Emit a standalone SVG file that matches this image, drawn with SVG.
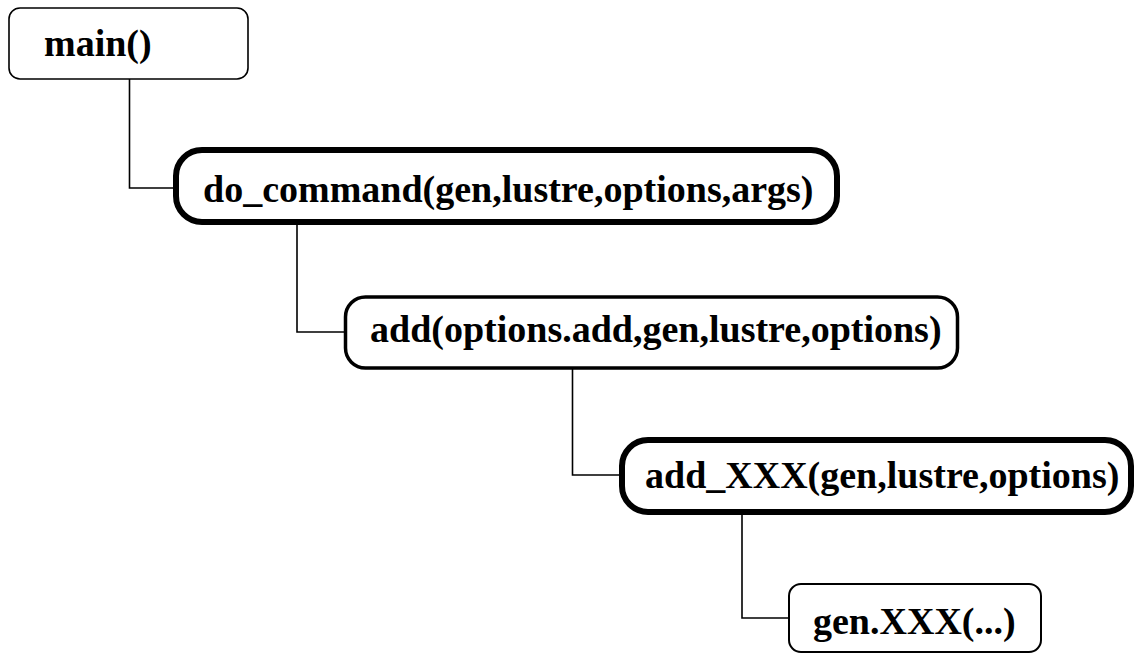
<svg xmlns="http://www.w3.org/2000/svg" width="1135" height="654" viewBox="0 0 1135 654">
<style>
.box{fill:#fff;stroke:#000}
.t{font-family:"Liberation Serif","Times New Roman",serif;font-weight:bold;font-size:38px;fill:#000}
.c{fill:none;stroke:#000;stroke-width:1.6}
</style>
<rect width="1135" height="654" fill="#fff"/>
<g id="connectors">
<polyline class="c" points="129.5,79 129.5,188 176,188"/>
<polyline class="c" points="297,225 297,332 345,332"/>
<polyline class="c" points="572.5,368 572.5,475 622,475"/>
<polyline class="c" points="742,512 742,618 789,618"/>
</g>
<g id="main">
<rect class="box" x="9" y="8" width="239" height="71" rx="11" stroke-width="1.6"/>
<text class="t" x="44" y="56">main()</text>
</g>
<g id="do_command">
<rect class="box" x="176" y="150" width="661" height="72" rx="26" stroke-width="6"/>
<text class="t" x="203" y="202">do_command(gen,lustre,options,args)</text>
</g>
<g id="add">
<rect class="box" x="345.5" y="297" width="612" height="71" rx="20" stroke-width="3.5"/>
<text class="t" x="370" y="342">add(options.add,gen,lustre,options)</text>
</g>
<g id="add_XXX">
<rect class="box" x="622" y="440" width="509" height="72" rx="26" stroke-width="6"/>
<text class="t" x="645" y="488">add_XXX(gen,lustre,options)</text>
</g>
<g id="gen_XXX">
<rect class="box" x="789" y="584" width="252" height="68" rx="12" stroke-width="2"/>
<text class="t" x="813" y="634">gen.XXX(...)</text>
</g>
</svg>
